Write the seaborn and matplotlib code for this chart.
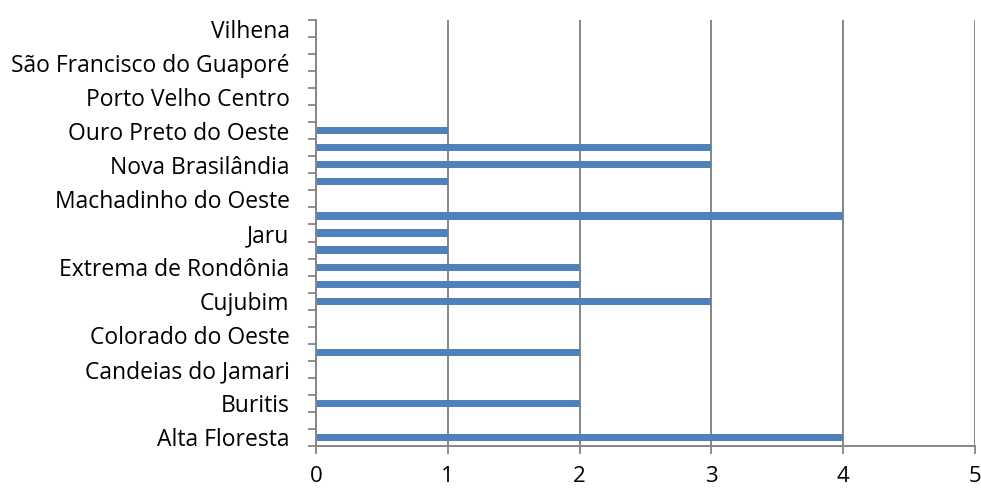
import matplotlib
matplotlib.use("Agg")
import matplotlib.pyplot as plt
from matplotlib.ticker import FixedLocator
import seaborn as sns
import pandas as pd
import numpy as np

# Municipalities, listed bottom-to-top as they appear on the axis
municipios = [
    "Alta Floresta", "Ariquemes", "Buritis", "Cacoal", "Candeias do Jamari",
    "Cerejeiras", "Colorado do Oeste", "Costa Marques", "Cujubim",
    "Espigão do Oeste", "Extrema de Rondônia", "Guajará-Mirim", "Jaru",
    "Ji-Paraná", "Machadinho do Oeste", "Mirante da Serra", "Nova Brasilândia",
    "Nova Mamoré", "Ouro Preto do Oeste", "Pimenta Bueno", "Porto Velho Centro",
    "Rolim de Moura", "São Francisco do Guaporé", "São Miguel do Guaporé",
    "Vilhena",
]
quantidade = [4, 0, 2, 0, 0, 2, 0, 0, 3, 2, 2, 1, 1, 4, 0, 1, 3, 3, 1, 0, 0, 0, 0, 0, 0]
x_ticks = [0, 1, 2, 3, 4, 5]

df = pd.DataFrame({"municipio": municipios, "quantidade": quantidade})
ordem = municipios[::-1]  # top of the chart first

sns.set_style("white")
plt.rcParams["font.family"] = ["Open Sans", "DejaVu Sans"]

fig = plt.figure(figsize=(9.81, 4.91), dpi=100)
ax = fig.add_axes([316 / 981, 1 - 446 / 491, (975 - 316) / 981, (446 - 20) / 491])

grid_color = "#868686"
ax.set_axisbelow(True)
ax.xaxis.grid(True, color=grid_color, linewidth=1.4)
ax.yaxis.grid(False)

sns.barplot(data=df, x="quantidade", y="municipio", order=ordem, orient="h",
            color="#4F81BD", saturation=1, width=0.42, ax=ax, edgecolor="none")

n = len(municipios)
ax.set_xlim(0, 5)
ax.set_ylim(n - 0.5, -0.5)
ax.set_xticks(x_ticks)
ax.set_xticklabels([str(v) for v in x_ticks], fontsize=16)

# Labels on every other category; boundary tick marks between categories
pos = np.arange(n)
ax.set_yticks(pos)
ax.set_yticklabels([name if (n - 1 - p) % 2 == 0 else "" for p, name in zip(pos, ordem)],
                   fontsize=16.5)
ax.yaxis.set_minor_locator(FixedLocator(np.arange(-0.5, n, 1.0)))
ax.tick_params(axis="y", which="major", left=True, length=0, pad=19, labelcolor="black")
ax.tick_params(axis="y", which="minor", left=True, length=6, width=1.3,
               color=grid_color, direction="out")
ax.tick_params(axis="x", which="major", bottom=True, length=6, width=1.3,
               color=grid_color, direction="out", pad=8.5, labelcolor="black")

ax.set_xlabel("")
ax.set_ylabel("")
for side in ("top", "right"):
    ax.spines[side].set_visible(False)
for side in ("left", "bottom"):
    ax.spines[side].set_color(grid_color)
    ax.spines[side].set_linewidth(1.4)

fig.savefig("out.png", dpi=100, facecolor="white")
